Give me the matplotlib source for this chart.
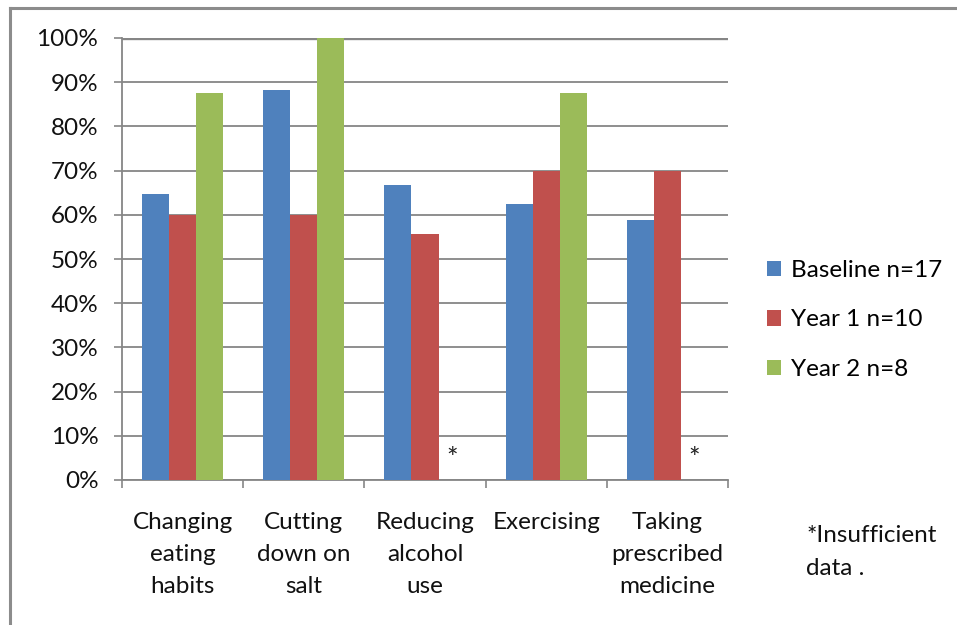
import matplotlib
matplotlib.use("Agg")
import matplotlib.pyplot as plt
import numpy as np
from matplotlib.lines import Line2D
from matplotlib.patches import Patch

plt.rcParams['font.family'] = ['Lato', 'DejaVu Sans']

categories = ["Changing\neating\nhabits", "Cutting\ndown on\nsalt", "Reducing\nalcohol\nuse",
              "Exercising", "Taking\nprescribed\nmedicine"]
series_names = ["Baseline n=17", "Year 1 n=10", "Year 2 n=8"]
baseline = [64.7, 88.2, 66.7, 62.5, 58.8]
year1 = [60.0, 60.0, 55.6, 70.0, 70.0]
year2 = [87.5, 100.0, np.nan, 87.5, np.nan]
y_ticks = [0, 10, 20, 30, 40, 50, 60, 70, 80, 90, 100]
footnote = "*Insufficient\ndata ."

colors = ["#4F81BD", "#C0504D", "#9BBB59"]
grid_c = "#868686"
fs = 17.5

fig = plt.figure(figsize=(9.57, 6.25), dpi=100)
ax = fig.add_axes([122 / 957, 1 - 480 / 625, (728 - 122) / 957, (480 - 38) / 625])

x = np.arange(len(categories))
w = 0.223
series = [baseline, year1, year2]
for i, (vals, c, name) in enumerate(zip(series, colors, series_names)):
    v = np.array(vals, dtype=float)
    ax.bar(x + (i - 1) * w, np.nan_to_num(v), w, color=c, label=name, zorder=3,
           linewidth=0)
    for xi, vi in zip(x, v):
        if np.isnan(vi):
            ax.text(xi + (i - 1) * w, 4.6, "*", ha="center", va="center",
                    fontsize=fs + 2, color="#222222", zorder=4)

ax.set_xlim(-0.5, len(categories) - 0.5)
ax.set_ylim(0, 100)
ax.set_yticks(y_ticks)
ax.set_yticklabels([f"{t}%" for t in y_ticks], fontsize=fs, color="#111111")
ax.yaxis.grid(True, color=grid_c, linewidth=1.3, zorder=0)
ax.axhline(100, color=grid_c, linewidth=2.4, zorder=1)

# category boundaries carry the tick marks, centers carry the labels
ax.set_xticks(np.arange(-0.5, len(categories), 1.0))
ax.set_xticklabels([])
ax.set_xticks(x, minor=True)
ax.set_xticklabels(categories, minor=True, fontsize=fs, color="#111111",
                   linespacing=1.66)
ax.tick_params(axis="x", which="major", length=6, width=1.2, color=grid_c, direction="out")
ax.tick_params(axis="x", which="minor", length=0, pad=23)
ax.tick_params(axis="y", length=6, width=1.2, color=grid_c, pad=11)

for s in ["top", "right"]:
    ax.spines[s].set_visible(False)
for s in ["left", "bottom"]:
    ax.spines[s].set_color(grid_c)
    ax.spines[s].set_linewidth(1.3)

handles = [Patch(facecolor=c, edgecolor="none") for c in colors]
fig.legend(handles, series_names, loc="center left",
           bbox_to_anchor=(745 / 957, 1 - 320 / 625), frameon=False,
           fontsize=fs, handlelength=0.6, handleheight=0.6, handletextpad=0.4,
           labelspacing=1.18)

fig.text(806 / 957, 1 - 552 / 625, footnote, fontsize=fs, va="center", ha="left",
         color="#111111", linespacing=1.66)

# outer chart frame
frame_c = "#8c8c8c"
fig.add_artist(Line2D([10 / 957, 10 / 957], [0, 1 - 8 / 625], transform=fig.transFigure,
                      color=frame_c, linewidth=2.2))
fig.add_artist(Line2D([10 / 957, 1], [1 - 8 / 625, 1 - 8 / 625], transform=fig.transFigure,
                      color=frame_c, linewidth=2.2))

fig.savefig("out.png", dpi=100)
